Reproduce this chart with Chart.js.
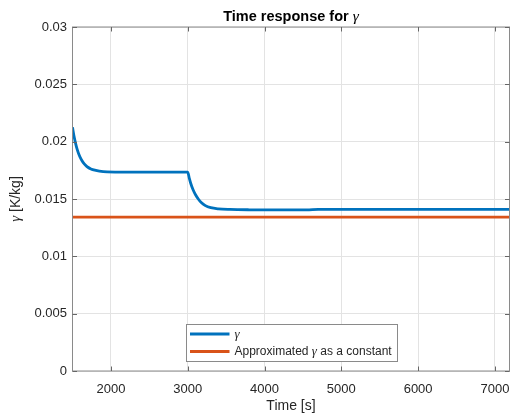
<!DOCTYPE html>
<html><head><meta charset="utf-8">
<script src="https://cdn.jsdelivr.net/npm/chart.js@4/dist/chart.umd.min.js"></script>
<style>html,body{margin:0;padding:0;background:#fff;}#wrap{position:relative;width:512px;height:416px;}</style>
</head><body><div id="wrap"><canvas id="c" width="512" height="416"></canvas></div>
<script>
// ---- data ----
const timeS = [1500, 1520, 1540, 1560, 1580, 1610, 1640, 1670, 1700, 1740, 1790, 1850, 1950, 2200, 2600, 3000,
               3020, 3040, 3070, 3100, 3140, 3180, 3230, 3300, 3400, 3550, 3800, 4200, 4550, 4700, 5500, 6500, 7190];
const gammaVals = [0.02125, 0.02047, 0.01985, 0.01935, 0.01895, 0.0185, 0.01817, 0.01794, 0.01777, 0.01762, 0.01751, 0.01743, 0.01737, 0.01735, 0.01735, 0.01735,
                   0.01683, 0.01635, 0.0158, 0.01539, 0.01498, 0.01468, 0.01442, 0.01424, 0.01414, 0.01409, 0.01406, 0.01405, 0.01405, 0.0141, 0.0141, 0.0141, 0.0141];
const constTime = [1500, 7190];
const constGamma = [0.01342, 0.01342];
const xTicks = [2000, 3000, 4000, 5000, 6000, 7000];
const yTicks = [0, 0.005, 0.01, 0.015, 0.02, 0.025, 0.03];
const yTickLabels = ['0', '0.005', '0.01', '0.015', '0.02', '0.025', '0.03'];
const seriesNames = ['γ', 'Approximated γ as a constant'];
const titleText = 'Time response for γ';
const yAxisLabel = 'γ [K/kg]';
const xAxisLabel = 'Time [s]';

const SANS = '"Liberation Sans", Arial, Helvetica, sans-serif';
const SERIF = '"Liberation Serif", "DejaVu Serif", serif';
const TXT = '#262626';
const BLUE = '#0072BD';
const ORANGE = '#D95319';

function richParts(str) {
  const parts = [];
  str.split(/(γ)/).forEach(s => { if (s !== '') parts.push({t: s, g: s === 'γ'}); });
  return parts;
}
function drawRich(ctx, str, x, y, size, bold, align) {
  const parts = richParts(str);
  const fontOf = p => p.g ? `italic ${size + 1}px ${SERIF}` : `${bold ? 'bold ' : ''}${size}px ${SANS}`;
  let w = 0;
  parts.forEach(p => { ctx.font = fontOf(p); p.w = ctx.measureText(p.t).width; w += p.w; });
  let cx = align === 'center' ? x - w / 2 : x;
  ctx.textAlign = 'left';
  parts.forEach(p => { ctx.font = fontOf(p); ctx.fillText(p.t, cx, y); cx += p.w; });
  return w;
}

const decor = {
  id: 'decor',
  afterDraw(chart) {
    const ctx = chart.ctx;
    const a = chart.chartArea;
    const xs = chart.scales.x, ys = chart.scales.y;
    ctx.save();
    // box
    ctx.strokeStyle = '#8a8a8a';
    ctx.lineWidth = 1;
    ctx.strokeRect(a.left, a.top, a.right - a.left, a.bottom - a.top);
    // inward tick marks
    ctx.strokeStyle = '#666';
    ctx.beginPath();
    const tl = 4.5;
    xs.ticks.forEach(t => {
      const px = Math.round(xs.getPixelForValue(t.value)) + 0.5;
      ctx.moveTo(px, a.bottom); ctx.lineTo(px, a.bottom - tl);
      ctx.moveTo(px, a.top); ctx.lineTo(px, a.top + tl);
    });
    ys.ticks.forEach(t => {
      const py = Math.round(ys.getPixelForValue(t.value)) + 0.5;
      ctx.moveTo(a.left, py); ctx.lineTo(a.left + tl, py);
      ctx.moveTo(a.right, py); ctx.lineTo(a.right - tl, py);
    });
    ctx.stroke();
    // title
    ctx.fillStyle = '#000';
    ctx.textBaseline = 'alphabetic';
    drawRich(ctx, titleText, (a.left + a.right) / 2, 20.5, 14.5, true, 'center');
    // y axis label
    ctx.fillStyle = TXT;
    ctx.save();
    ctx.translate(20, (a.top + a.bottom) / 2);
    ctx.rotate(-Math.PI / 2);
    drawRich(ctx, yAxisLabel, 0, 0, 14, false, 'center');
    ctx.restore();
    // legend
    const lx = 186.5, ly = 324.5, lw = 211, lh = 37;
    ctx.fillStyle = '#fff';
    ctx.fillRect(lx, ly, lw, lh);
    ctx.strokeStyle = '#8a8a8a';
    ctx.lineWidth = 1;
    ctx.strokeRect(lx, ly, lw, lh);
    const rows = [334, 351.5];
    chart.data.datasets.forEach((ds, i) => {
      ctx.strokeStyle = ds.borderColor;
      ctx.lineWidth = 2.8;
      ctx.beginPath();
      ctx.moveTo(190, rows[i]); ctx.lineTo(229.5, rows[i]);
      ctx.stroke();
      ctx.fillStyle = TXT;
      ctx.textBaseline = 'middle';
      drawRich(ctx, ds.label, 234.5, rows[i] + 0.5, 12, false, 'left');
    });
    ctx.restore();
  }
};

new Chart(document.getElementById('c'), {
  type: 'line',
  data: {
    datasets: [
      { label: seriesNames[0], data: timeS.map((t, i) => ({x: t, y: gammaVals[i]})),
        borderColor: BLUE, borderWidth: 2.8, pointRadius: 0, cubicInterpolationMode: 'monotone', fill: false },
      { label: seriesNames[1], data: constTime.map((t, i) => ({x: t, y: constGamma[i]})),
        borderColor: ORANGE, borderWidth: 2.8, pointRadius: 0, fill: false }
    ]
  },
  options: {
    responsive: false, animation: false, devicePixelRatio: 1,
    layout: { padding: { top: 27, right: 2.5, left: 0, bottom: 0 } },
    plugins: { legend: { display: false }, title: { display: false }, tooltip: { enabled: false } },
    scales: {
      x: {
        type: 'linear', min: 1500, max: 7190,
        afterBuildTicks: s => { s.ticks = xTicks.map(v => ({value: v})); },
        afterFit: s => { s.height = 45; s.paddingLeft = 0; s.paddingRight = 0; },
        ticks: { font: { family: SANS, size: 13 }, color: TXT, padding: 11, maxRotation: 0, autoSkip: false,
                 callback: v => String(v) },
        grid: { color: '#e3e3e3', drawTicks: false },
        border: { display: false },
        title: { display: true, text: xAxisLabel, color: TXT, font: { family: SANS, size: 14 }, padding: { top: 0, bottom: 1 } }
      },
      y: {
        type: 'linear', min: 0, max: 0.03,
        afterBuildTicks: s => { s.ticks = yTicks.map(v => ({value: v})); },
        afterFit: s => { s.width = 72.5; s.paddingTop = 0; s.paddingBottom = 0; },
        ticks: { font: { family: SANS, size: 13 }, color: TXT, padding: 5.5, autoSkip: false,
                 callback: v => yTickLabels[yTicks.indexOf(v)] },
        grid: { color: '#e3e3e3', drawTicks: false },
        border: { display: false }
      }
    }
  },
  plugins: [decor]
});
</script></body></html>
